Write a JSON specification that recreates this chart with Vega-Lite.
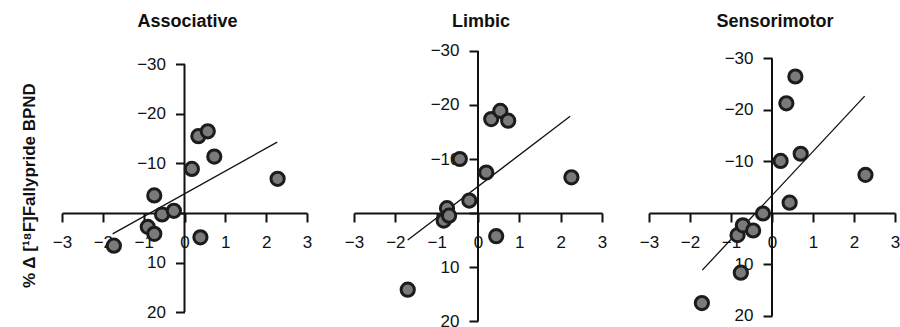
{
  "$schema": "https://vega.github.io/schema/vega-lite/v6.json",
  "padding": {"left": 20, "top": 12, "right": 0, "bottom": 0},
  "spacing": 32,
  "background": "white",
  "config": {
    "view": {"stroke": null},
    "font": "Liberation Sans",
    "axis": {
      "grid": false,
      "domainColor": "#111",
      "tickColor": "#111",
      "labelColor": "#111",
      "labelFont": "Liberation Sans",
      "labelFontSize": 17,
      "tickWidth": 2,
      "domainWidth": 2,
      "tickSize": 9,
      "labelFlush": false,
      "labelOverlap": false,
      "titleFont": "Liberation Sans",
      "titleFontSize": 17,
      "titleFontWeight": "bold",
      "titleColor": "#111"
    },
    "title": {"font": "Liberation Sans", "fontSize": 18, "fontWeight": "bold", "color": "#111", "anchor": "middle", "frame": "group", "baseline": "bottom", "offset": 18, "dx": 3}
  },
  "datasets": {
    "points": [
      {"region": "Associative", "x": -1.73, "y": 6.6},
      {"region": "Associative", "x": -0.90, "y": 2.8},
      {"region": "Associative", "x": -0.74, "y": -3.55},
      {"region": "Associative", "x": -0.74, "y": 4.2},
      {"region": "Associative", "x": -0.55, "y": 0.3},
      {"region": "Associative", "x": -0.26, "y": -0.45},
      {"region": "Associative", "x": 0.18, "y": -8.9},
      {"region": "Associative", "x": 0.34, "y": -15.5},
      {"region": "Associative", "x": 0.57, "y": -16.5},
      {"region": "Associative", "x": 0.73, "y": -11.4},
      {"region": "Associative", "x": 0.39, "y": 4.9},
      {"region": "Associative", "x": 2.28, "y": -6.9},
      {"region": "Limbic", "x": -1.70, "y": 14.2},
      {"region": "Limbic", "x": -0.83, "y": 1.4},
      {"region": "Limbic", "x": -0.75, "y": -0.9},
      {"region": "Limbic", "x": -0.70, "y": 0.5},
      {"region": "Limbic", "x": -0.44, "y": -10.0},
      {"region": "Limbic", "x": -0.21, "y": -2.3},
      {"region": "Limbic", "x": 0.20, "y": -7.5},
      {"region": "Limbic", "x": 0.32, "y": -17.4},
      {"region": "Limbic", "x": 0.54, "y": -18.9},
      {"region": "Limbic", "x": 0.73, "y": -17.1},
      {"region": "Limbic", "x": 0.44, "y": 4.3},
      {"region": "Limbic", "x": 2.26, "y": -6.6},
      {"region": "Sensorimotor", "x": -1.71, "y": 17.5},
      {"region": "Sensorimotor", "x": -0.76, "y": 11.6},
      {"region": "Sensorimotor", "x": -0.84, "y": 4.3},
      {"region": "Sensorimotor", "x": -0.71, "y": 2.4},
      {"region": "Sensorimotor", "x": -0.46, "y": 3.4},
      {"region": "Sensorimotor", "x": -0.22, "y": 0.1},
      {"region": "Sensorimotor", "x": 0.21, "y": -10.1},
      {"region": "Sensorimotor", "x": 0.35, "y": -21.3},
      {"region": "Sensorimotor", "x": 0.57, "y": -26.5},
      {"region": "Sensorimotor", "x": 0.70, "y": -11.5},
      {"region": "Sensorimotor", "x": 0.43, "y": -2.0},
      {"region": "Sensorimotor", "x": 2.28, "y": -7.4}
    ],
    "fits": [
      {"region": "Associative", "x": -1.76, "y": 4.2},
      {"region": "Associative", "x": 2.27, "y": -14.3},
      {"region": "Limbic", "x": -1.70, "y": 5.0},
      {"region": "Limbic", "x": 2.23, "y": -17.9},
      {"region": "Sensorimotor", "x": -1.70, "y": 11.1},
      {"region": "Sensorimotor", "x": 2.26, "y": -22.7}
    ]
  },
  "hconcat": [
    {
      "width": 245,
      "height": 276,
      "title": {"text": "Associative"},
      "layer": [
        {
          "data": {"name": "fits"},
          "transform": [{"filter": "datum.region == 'Associative'"}],
          "mark": {"type": "line", "color": "#111", "strokeWidth": 1.3},
          "encoding": {
            "x": {"field": "x", "type": "quantitative", "scale": {"domain": [-3, 3], "nice": false, "zero": false},
              "axis": {"orient": "bottom", "offset": -112, "values": [-3, -2, -1, 0, 1, 2, 3], "title": null, "labelPadding": 12}},
            "y": {"field": "y", "type": "quantitative", "scale": {"domain": [-33.11, 22.61], "reverse": true, "nice": false, "zero": false},
              "axis": {"orient": "left", "offset": -122.5, "values": [-30, -20, -10, 0, 10, 20], "domain": false, "labelPadding": 10,
                "labelExpr": "datum.value == 0 ? '' : datum.label",
                "title": "% Δ [¹⁸F]Fallypride BPND", "titleX": -146, "titleY": 136, "titleAngle": 270, "titleBaseline": "bottom", "titleAlign": "center"}}
          }
        },
        {
          "data": {"values": [{"a": 1}]},
          "mark": {"type": "rule", "color": "#111", "strokeWidth": 2},
          "encoding": {
            "x": {"datum": 0, "type": "quantitative"},
            "y": {"datum": -30, "type": "quantitative"},
            "y2": {"datum": 20}
          }
        },
        {
          "data": {"name": "points"},
          "transform": [{"filter": "datum.region == 'Associative'"}],
          "mark": {"type": "circle", "size": 175, "fill": "#7a7a7a", "stroke": "#1c1c1c", "strokeWidth": 3, "opacity": 1},
          "encoding": {
            "x": {"field": "x", "type": "quantitative"},
            "y": {"field": "y", "type": "quantitative"}
          }
        }
      ]
    },
    {
      "width": 248,
      "height": 276,
      "title": {"text": "Limbic", "offset": 11},
      "layer": [
        {
          "data": {"name": "fits"},
          "transform": [{"filter": "datum.region == 'Limbic'"}],
          "mark": {"type": "line", "color": "#111", "strokeWidth": 1.3},
          "encoding": {
            "x": {"field": "x", "type": "quantitative", "scale": {"domain": [-3, 3], "nice": false, "zero": false},
              "axis": {"orient": "bottom", "offset": -112, "values": [-3, -2, -1, 0, 1, 2, 3], "title": null, "labelPadding": 12}},
            "y": {"field": "y", "type": "quantitative", "scale": {"domain": [-30.37, 20.74], "reverse": true, "nice": false, "zero": false},
              "axis": {"orient": "left", "offset": -124, "values": [-30, -20, -10, 0, 10, 20], "domain": false, "labelPadding": 10,
                "labelExpr": "datum.value == 0 ? '' : datum.label", "title": null}}
          }
        },
        {
          "data": {"values": [{"a": 1}]},
          "mark": {"type": "rule", "color": "#111", "strokeWidth": 2},
          "encoding": {
            "x": {"datum": 0, "type": "quantitative"},
            "y": {"datum": -30, "type": "quantitative"},
            "y2": {"datum": 20}
          }
        },
        {
          "data": {"name": "points"},
          "transform": [{"filter": "datum.region == 'Limbic'"}],
          "mark": {"type": "circle", "size": 175, "fill": "#7a7a7a", "stroke": "#1c1c1c", "strokeWidth": 3, "opacity": 1},
          "encoding": {
            "x": {"field": "x", "type": "quantitative"},
            "y": {"field": "y", "type": "quantitative"}
          }
        }
      ]
    },
    {
      "width": 246,
      "height": 276,
      "title": {"text": "Sensorimotor"},
      "layer": [
        {
          "data": {"name": "fits"},
          "transform": [{"filter": "datum.region == 'Sensorimotor'"}],
          "mark": {"type": "line", "color": "#111", "strokeWidth": 1.3},
          "encoding": {
            "x": {"field": "x", "type": "quantitative", "scale": {"domain": [-3, 3], "nice": false, "zero": false},
              "axis": {"orient": "bottom", "offset": -112, "values": [-3, -2, -1, 0, 1, 2, 3], "title": null, "labelPadding": 12}},
            "y": {"field": "y", "type": "quantitative", "scale": {"domain": [-31.84, 21.75], "reverse": true, "nice": false, "zero": false},
              "axis": {"orient": "left", "offset": -123, "values": [-30, -20, -10, 0, 10, 20], "domain": false, "labelPadding": 10,
                "labelExpr": "datum.value == 0 ? '' : datum.label", "title": null}}
          }
        },
        {
          "data": {"values": [{"a": 1}]},
          "mark": {"type": "rule", "color": "#111", "strokeWidth": 2},
          "encoding": {
            "x": {"datum": 0, "type": "quantitative"},
            "y": {"datum": -30, "type": "quantitative"},
            "y2": {"datum": 20}
          }
        },
        {
          "data": {"name": "points"},
          "transform": [{"filter": "datum.region == 'Sensorimotor'"}],
          "mark": {"type": "circle", "size": 175, "fill": "#7a7a7a", "stroke": "#1c1c1c", "strokeWidth": 3, "opacity": 1},
          "encoding": {
            "x": {"field": "x", "type": "quantitative"},
            "y": {"field": "y", "type": "quantitative"}
          }
        }
      ]
    }
  ]
}
